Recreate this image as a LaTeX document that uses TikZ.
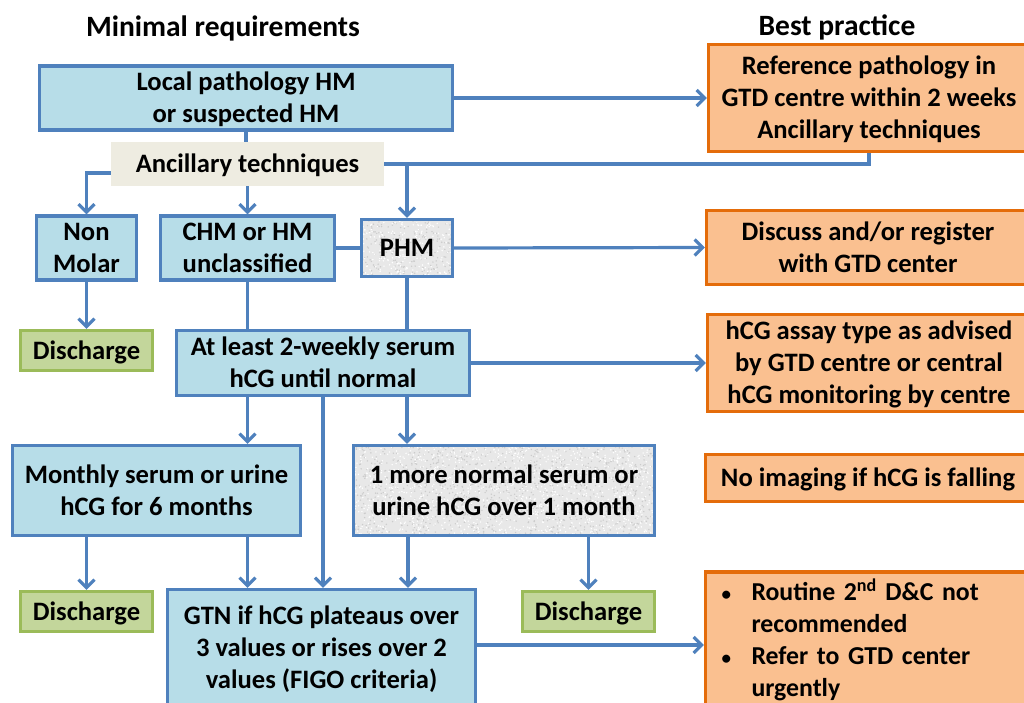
\documentclass[tikz,border=0pt]{standalone}
\usepackage{fontspec}
\setmainfont{Carlito}
\usetikzlibrary{arrows.meta,calc}
\definecolor{boxblue}{HTML}{B7DDE8}
\definecolor{lineblue}{HTML}{4F81BD}
\definecolor{boxorange}{HTML}{FAC090}
\definecolor{lineorange}{HTML}{E46C0A}
\definecolor{boxgreen}{HTML}{C3D69B}
\definecolor{linegreen}{HTML}{9BBB59}
\definecolor{boxbeige}{HTML}{EEECE1}
\definecolor{boxgray}{HTML}{E8E8E8}
% box text: centred lines set a little low in their box
\newcommand\boxtext[1]{\raisebox{-2.5pt}[\height][\depth]{\begin{tabular}{@{}c@{}}#1\end{tabular}}}
\begin{document}
\begin{tikzpicture}[x=1pt,y=-1pt,
  every node/.style={font=\fontsize{26.6}{32}\selectfont\bfseries, align=center, inner sep=0pt},
  box/.style={draw, line width=3.2pt, rectangle},
  bluebox/.style={box, draw=lineblue, fill=boxblue},
  orangebox/.style={box, draw=lineorange, fill=boxorange},
  greenbox/.style={box, draw=linegreen, fill=boxgreen},
  beigebox/.style={rectangle, fill=boxbeige},
  graybox/.style={box, draw=lineblue, fill=boxgray, path picture={
      \foreach \k in {1,...,1300}{
        \fill[gray!40] ($(path picture bounding box.north west)+(rnd*310,rnd*100)$) circle (0.8);
      }
      \foreach \k in {1,...,1300}{
        \fill[white] ($(path picture bounding box.north west)+(rnd*310,rnd*100)$) circle (0.8);
      }}},
  conn/.style={draw=lineblue, line width=3.2pt},
  arr/.style={conn, -{Straight Barb[length=8pt,width=16pt]}},
  heading/.style={font=\fontsize{29.5}{34}\selectfont\bfseries}
]
\pgfmathsetseed{12}
\useasboundingbox (0,0) rectangle (1024,702);

% column headings
\node[heading] (hmin) at (223,28.5) {Minimal requirements};
\node[heading] (hbest) at (837,27.5) {Best practice};

% minimal requirements column
\node[bluebox, minimum width=413, minimum height=57] (local) at (246,98) {\boxtext{Local pathology HM\\or suspected HM}};
\node[beigebox, minimum width=273, minimum height=44] (anc) at (247.5,164) {\boxtext{Ancillary techniques}};
\node[bluebox, minimum width=100, minimum height=57] (nonmolar) at (86.5,248) {\boxtext{Non\\Molar}};
\node[bluebox, minimum width=174, minimum height=57] (chm) at (247.5,248) {\boxtext{CHM or HM\\unclassified}};
\node[graybox, minimum width=91, minimum height=57] (phm) at (407,248) {\boxtext{PHM}};
\node[greenbox, minimum width=132, minimum height=40] (dis1) at (86.5,350.5) {\boxtext{Discharge}};
\node[bluebox, minimum width=293, minimum height=65] (atleast) at (323,363) {\boxtext{At least 2-weekly serum\\hCG until normal}};
\node[bluebox, minimum width=288, minimum height=90] (monthly) at (156.5,490.5) {\boxtext{Monthly serum or urine\\hCG for 6 months}};
\node[graybox, minimum width=301, minimum height=90] (onemore) at (504,490.5) {\boxtext{1 more normal serum or\\urine hCG over 1 month}};
\node[greenbox, minimum width=132, minimum height=40] (dis2) at (86.5,611.5) {\boxtext{Discharge}};
\node[greenbox, minimum width=132, minimum height=40] (dis3) at (588.5,611.5) {\boxtext{Discharge}};
\node[bluebox, minimum width=308, minimum height=117] (gtn) at (321.5,648) {\boxtext{GTN if hCG plateaus over\\3 values or rises over 2\\values (FIGO criteria)}};

% best practice column
\node[orangebox, minimum width=321, minimum height=107] (ref) at (869,98) {\boxtext{Reference pathology in\\GTD centre within 2 weeks\\Ancillary techniques}};
\node[orangebox, minimum width=323, minimum height=74] (discuss) at (868,247.5) {\boxtext{Discuss and/or register\\with GTD center}};
\node[orangebox, minimum width=323, minimum height=97] (assay) at (869,363) {\boxtext{hCG assay type as advised\\by GTD centre or central\\hCG monitoring by centre}};
\node[orangebox, minimum width=325, minimum height=47] (noimg) at (868,478) {\boxtext{No imaging if hCG is falling}};
\node[orangebox, minimum width=325, minimum height=136, text width=293, inner xsep=16, align=left,
      font=\fontsize{25.8}{32}\selectfont\bfseries] (final) at (868,640)
  {\raisebox{-2.5pt}[\height][\depth]{\begin{tabular}{@{}p{30pt}@{}l@{}}
   {\fontsize{19}{19}\selectfont\textbullet} & Routine 2\textsuperscript{nd} D\&C not\\
               & recommended\\
   {\fontsize{19}{19}\selectfont\textbullet} & Refer to GTD center\\
               & urgently
   \end{tabular}}};

% connectors
\draw[conn] (local.south) -- (local.south |- anc.north);
\draw[arr] (local.east) -- (ref.west);
\draw[arr] ($(anc.west)+(0,9)$) -| (nonmolar.north);
\draw[arr] (anc.south) -- (chm.north);
\draw[conn] (anc.east) -| (ref.south);
\draw[arr] (phm.north |- anc.east) -- (phm.north);
\draw[conn] (chm.east) -- (phm.west);
\draw[arr] (phm.east) -- (discuss.west);
\draw[arr] (nonmolar.south) -- (dis1.north);
\draw[conn] (chm.south) -- (chm.south |- atleast.north);
\draw[conn] (phm.south) -- (phm.south |- atleast.north);
\draw[arr] (atleast.east) -- (atleast.east -| assay.west);
\draw[arr] (chm.south |- atleast.south) -- (chm.south |- monthly.north);
\draw[arr] (atleast.south) -- (atleast.south |- gtn.north);
\draw[arr] (phm.south |- atleast.south) -- (phm.south |- onemore.north);
\draw[arr] (nonmolar.south |- monthly.south) -- (dis2.north);
\draw[arr] (chm.south |- monthly.south) -- (chm.south |- gtn.north);
\draw[arr] ([xshift=1pt]phm.south |- onemore.south) -- ([xshift=1pt]phm.south |- gtn.north);
\draw[arr] (dis3.north |- onemore.south) -- (dis3.north);
\draw[arr] ($(gtn.east)+(0,-3)$) -- ($(gtn.east -| final.west)+(0,-3)$);
\end{tikzpicture}
\end{document}
